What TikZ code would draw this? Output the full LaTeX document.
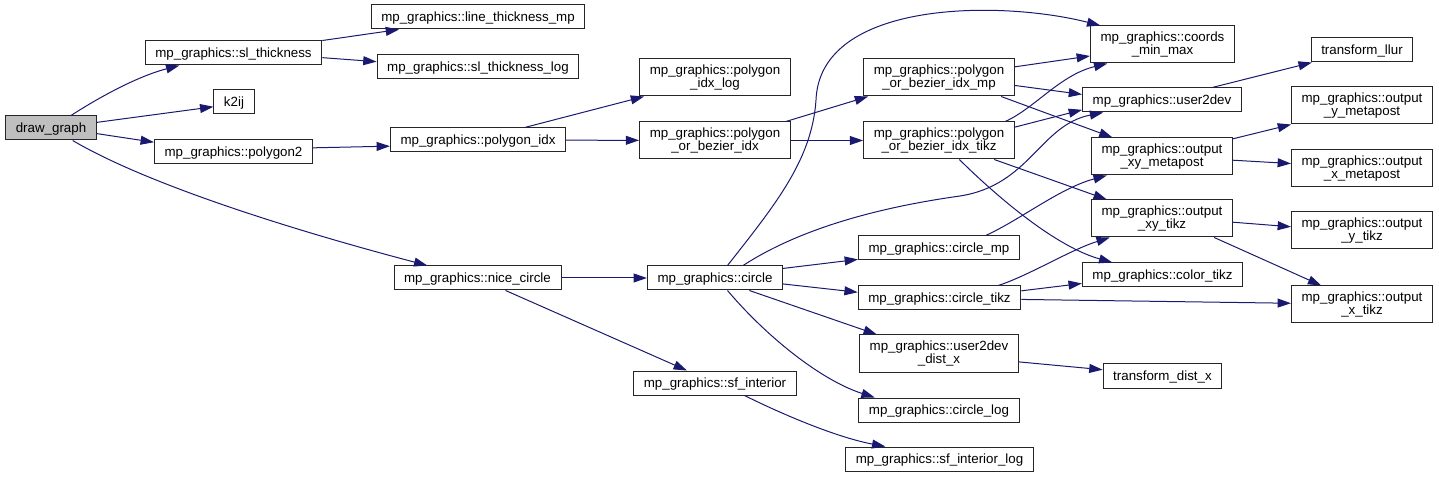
\documentclass[tikz,border=0pt]{standalone}
\usepackage{fontspec}
\setmainfont{Liberation Sans}
\usetikzlibrary{arrows.meta}
\definecolor{edgeblue}{HTML}{191970}
\definecolor{rootgray}{HTML}{BFBFBF}

\begin{document}
\begin{tikzpicture}[x=0.75pt, y=-0.75pt,
    fnbase/.style={rectangle, draw=black!85, fill=white, line width=0.75pt,
        inner xsep=7.6pt, inner ysep=0pt, font=\fontsize{10pt}{10pt}\selectfont},
    fn/.style={fnbase, minimum height=18pt, text height=8pt, text depth=1.5pt},
    fn2/.style={fnbase, align=center, minimum height=27.75pt},
    call/.style={edgeblue, line width=0.75pt, -{Triangle[length=10pt, width=6.7pt]}}
]
    \useasboundingbox (0,0) rectangle (1439,477);

    \node[fn, fill=rootgray] (draw) at (51,128) {draw\_graph};
    \node[fn] (slt) at (233.5,53) {mp\_graphics::sl\_thickness};
    \node[fn] (k2ij) at (234,102) {k2ij};
    \node[fn] (pg2) at (233.5,152) {mp\_graphics::polygon2};
    \node[fn] (ltm) at (478,17) {mp\_graphics::line\_thickness\_mp};
    \node[fn] (sltl) at (478,67) {mp\_graphics::sl\_thickness\_log};
    \node[fn] (pidx) at (478,140) {mp\_graphics::polygon\_idx};
    \node[fn] (nice) at (477.5,278) {mp\_graphics::nice\_circle};
    \node[fn2] (pidxl) at (715,77.5) {mp\_graphics::polygon\\\_idx\_log};
    \node[fn2] (pobi) at (715,140.5) {mp\_graphics::polygon\\\_or\_bezier\_idx};
    \node[fn] (circ) at (715,278) {mp\_graphics::circle};
    \node[fn] (sfint) at (715,383) {mp\_graphics::sf\_interior};
    \node[fn2] (pobimp) at (939,77.5) {mp\_graphics::polygon\\\_or\_bezier\_idx\_mp};
    \node[fn2] (pobitk) at (939,140.5) {mp\_graphics::polygon\\\_or\_bezier\_idx\_tikz};
    \node[fn] (cmp) at (939,248) {mp\_graphics::circle\_mp};
    \node[fn] (ctk) at (939.5,298) {mp\_graphics::circle\_tikz};
    \node[fn2] (u2dx) at (939,353.5) {mp\_graphics::user2dev\\\_dist\_x};
    \node[fn] (clog) at (939,410) {mp\_graphics::circle\_log};
    \node[fn] (sfl) at (939.5,459) {mp\_graphics::sf\_interior\_log};
    \node[fn2] (cmm) at (1162.5,44.5) {mp\_graphics::coords\\\_min\_max};
    \node[fn] (u2d) at (1162,100) {mp\_graphics::user2dev};
    \node[fn2] (oxym) at (1162,156.5) {mp\_graphics::output\\\_xy\_metapost};
    \node[fn2] (oxyt) at (1162,218.5) {mp\_graphics::output\\\_xy\_tikz};
    \node[fn] (ctz) at (1162.5,275) {mp\_graphics::color\_tikz};
    \node[fn] (tdx) at (1162.5,376) {transform\_dist\_x};
    \node[fn] (tllur) at (1362,50) {transform\_llur};
    \node[fn2] (oym) at (1362,105.5) {mp\_graphics::output\\\_y\_metapost};
    \node[fn2] (oxm) at (1362,168.5) {mp\_graphics::output\\\_x\_metapost};
    \node[fn2] (oyt) at (1362,230.5) {mp\_graphics::output\\\_y\_tikz};
    \node[fn2] (oxt) at (1362,304.5) {mp\_graphics::output\\\_x\_tikz};

    \draw[call] (draw.32) .. controls (95,100) and (135,77) .. (slt.-167);
    \draw[call] (draw.7) -- (k2ij.193);
    \draw[call] (draw.-7) -- (pg2.173.5);
    \draw[call] (draw.-30) .. controls (150,186) and (300,232) .. (nice.166);
    \draw[call] (slt.8) -- (ltm.-171.5);
    \draw[call] (slt.-3) -- (sltl.177);
    \draw[call] (pg2.3) -- (pidx.-176);
    \draw[call] (pidx.15) -- (pidxl.-165);
    \draw[call] (pidx) -- (pobi);
    \draw[call] (pobi.15) -- (pobimp.-165);
    \draw[call] (pobi) -- (pobitk);
    \draw[call] (pobimp.8.6) -- (cmm.-171);
    \draw[call] (pobimp.-6.4) -- (u2d.176.4);
    \draw[call] (pobimp.-17) -- (oxym.159);
    \draw[call] (pobitk.16) .. controls (1035,108) and (1060,75) .. (cmm.-161.6);
    \draw[call] (pobitk.10) -- (u2d.-173);
    \draw[call] (pobitk.-19) -- (oxyt.161);
    \draw[call] (pobitk.-43) .. controls (985,185) and (1050,245) .. (ctz.166.6);
    \draw[call] (circ.45) .. controls (775,205) and (812,160) .. (816,100)
        .. controls (820,0) and (1000,0) .. (cmm.163);
    \draw[call] (circ.24) .. controls (790,235) and (860,210) .. (960,196)
        .. controls (1030,185) and (1040,125) .. (u2d.-168);
    \draw[call] (circ.8) -- (cmp.-172);
    \draw[call] (circ.-5) -- (ctk.176);
    \draw[call] (circ.-20) -- (u2dx.163);
    \draw[call] (circ.-45) .. controls (765,335) and (820,380) .. (clog.169);
    \draw[call] (nice) -- (circ);
    \draw[call] (nice.-24) -- (sfint.156);
    \draw[call] (sfint.-23) .. controls (790,418) and (840,438) .. (sfl.167);
    \draw[call] (cmp.15.6) .. controls (1020,220) and (1060,188) .. (oxym.-161.4);
    \draw[call] (ctk.12) .. controls (1030,275) and (1070,250) .. (oxyt.-160);
    \draw[call] (ctk.5.5) -- (ctz.-174);
    \draw[call] (ctk.-1) -- (oxt.179);
    \draw[call] (u2d.14) -- (tllur.-166);
    \draw[call] (oxym.14) -- (oym.-165);
    \draw[call] (oxym.-3.6) -- (oxm.176.4);
    \draw[call] (oxyt.-3.6) -- (oyt.177);
    \draw[call] (oxyt.-20) -- (oxt.155);
    \draw[call] (u2dx.-6) -- (tdx.174);
\end{tikzpicture}
\end{document}
